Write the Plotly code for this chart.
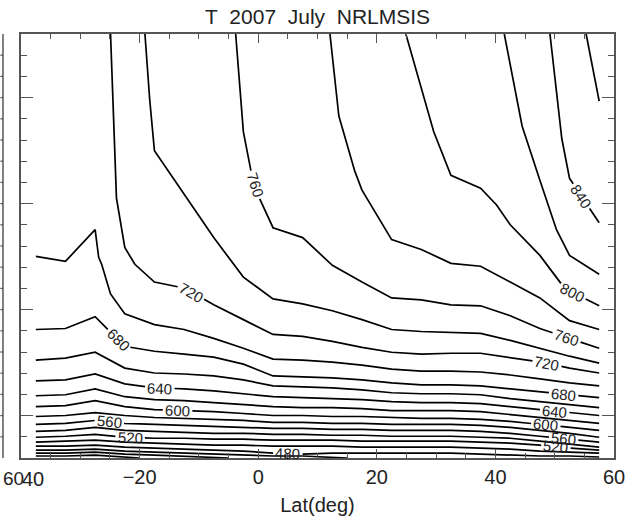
import numpy as np
import plotly.graph_objects as go

# ---------------- data ----------------
# latitude columns of the temperature grid (deg)
lat = [-37.5, -32.5, -27.5, -22.5, -17.5, -12.5, -7.5, -2.5, 2.5, 7.5,
       12.5, 17.5, 22.5, 27.5, 32.5, 37.5, 42.5, 47.5, 52.5, 57.5]
N = None
# altitude (km) where each isotherm (K) crosses each latitude column (None = not crossed)
alt_T420 = [101.0, 101.0, 101.5, 100.5, N, N, N, N, N, N, N, N, N, N, N, N, N, N, N, N]
alt_T440 = [102.5, 102.5, 103.0, 102.0, 101.5, 101.0, 100.5, N, N, N, N, N, N, N, N, N, N, N, N, N]
alt_T460 = [104.0, 104.0, 104.5, 103.5, 103.0, 102.5, 102.0, 101.5, 101.0, 101.0, 100.5, N, N, N, N, N, N, N, N, N]
alt_T480 = [106.0, 106.0, 106.5, 105.5, 105.0, 104.5, 104.0, 103.5, 102.5, 102.0, 102.5, 102.5, 102.5, 102.5, 102.5, 102.0, 101.5, 101.0, 101.0, 100.5]
alt_T500 = [108.0, 108.5, 109.0, 108.0, 107.5, 107.0, 106.5, 106.5, 106.0, 106.0, 106.0, 105.5, 105.5, 105.5, 105.5, 105.0, 104.5, 103.5, 103.0, 102.5]
alt_T520 = [110.5, 111.0, 112.0, 110.5, 110.0, 110.0, 109.5, 109.5, 109.0, 109.0, 109.0, 108.5, 108.5, 108.5, 108.5, 108.0, 107.5, 106.5, 105.0, 104.0]
alt_T540 = [113.5, 114.0, 115.5, 114.0, 113.5, 113.0, 112.5, 112.5, 112.0, 112.0, 111.5, 111.5, 111.0, 111.0, 111.0, 110.5, 110.0, 108.5, 107.0, 105.5]
alt_T560 = [117.0, 117.5, 119.0, 117.5, 117.0, 116.5, 116.0, 115.5, 115.0, 115.0, 114.5, 114.5, 114.0, 114.0, 114.0, 113.5, 112.5, 111.0, 109.5, 108.0]
alt_T580 = [121.0, 121.5, 123.0, 121.5, 120.5, 120.0, 119.5, 119.0, 118.0, 118.0, 117.5, 117.5, 117.0, 117.0, 117.0, 116.5, 115.5, 114.0, 112.5, 110.5]
alt_T600 = [126.0, 126.5, 129.0, 126.0, 124.5, 124.0, 123.5, 122.5, 121.5, 121.5, 121.0, 121.0, 120.5, 120.0, 120.0, 119.5, 118.5, 117.0, 115.5, 114.0]
alt_T620 = [131.5, 132.0, 135.0, 131.0, 129.5, 129.0, 128.0, 127.0, 126.0, 125.5, 125.5, 125.0, 124.0, 124.0, 124.0, 123.5, 122.0, 120.5, 119.0, 117.5]
alt_T640 = [139.0, 139.5, 142.5, 137.5, 135.5, 135.0, 134.0, 132.5, 131.0, 130.5, 130.0, 129.5, 128.5, 128.0, 128.0, 127.5, 126.0, 124.5, 123.0, 121.5]
alt_T660 = [149.5, 150.5, 153.5, 145.5, 143.0, 142.5, 141.5, 139.5, 136.5, 136.0, 135.5, 134.5, 133.0, 132.5, 132.5, 132.0, 130.0, 128.5, 127.0, 125.5]
alt_T680 = [165.0, 165.5, 171.5, 156.5, 154.0, 152.5, 151.0, 147.5, 141.5, 141.0, 140.5, 139.5, 138.0, 137.0, 137.0, 136.5, 135.0, 133.5, 132.0, 130.5]
alt_T700 = [202.0, 199.5, 215.5, 173.0, 167.5, 165.0, 160.5, 155.5, 150.0, 149.5, 148.5, 147.0, 145.0, 144.0, 144.0, 143.5, 142.0, 140.0, 138.0, 136.5]
alt_T720 = [N, N, N, 206.5, 189.0, 186.0, 177.5, 170.0, 162.5, 161.5, 159.0, 156.0, 153.5, 152.5, 153.0, 153.0, 151.0, 148.5, 145.5, 143.0]
alt_T740 = [N, N, N, N, 255.5, 233.5, 211.5, 191.5, 180.5, 178.0, 174.5, 170.0, 165.0, 164.0, 163.5, 163.0, 159.5, 155.5, 151.5, 148.0]
alt_T760 = [N, N, N, N, N, N, N, 265.0, 216.5, 211.5, 197.5, 189.0, 181.0, 180.0, 177.5, 177.0, 172.0, 165.5, 160.5, 155.5]
alt_T780 = [N, N, N, N, N, N, N, N, N, N, N, 235.5, 210.5, 205.5, 198.5, 197.0, 189.0, 181.0, 169.5, 165.0]
alt_T800 = [N, N, N, N, N, N, N, N, N, N, N, N, N, 286.5, 243.0, 236.5, 218.0, 202.5, 184.5, 177.0]
alt_T820 = [N, N, N, N, N, N, N, N, N, N, N, N, N, N, N, N, 299.0, 240.5, 202.5, 193.0]
alt_T840 = [N, N, N, N, N, N, N, N, N, N, N, N, N, N, N, N, N, N, 241.5, 219.0]
alt_T860 = [N, N, N, N, N, N, N, N, N, N, N, N, N, N, N, N, N, N, N, 280.5]

# extra isotherm vertices between grid columns (where lines leave the top/bottom or bend)
ext_lat_T420, ext_alt_T420 = [-20.0], [100.0]
ext_lat_T440, ext_alt_T440 = [-5.0], [100.0]
ext_lat_T460, ext_alt_T460 = [15.0], [100.0]
ext_lat_T700, ext_alt_T700 = [-26.9, -26.4, -24.9], [201.5, 198.0, 183.0]
ext_lat_T720, ext_alt_T720 = [-24.9, -23.9, -20.8], [314.5, 231.5, 198.0]
ext_lat_T740, ext_alt_T740 = [-19.1, -18.3], [314.5, 281.5]
ext_lat_T760, ext_alt_T760 = [-3.8, -1.2, 0.2], [314.5, 245.0, 231.5]
ext_lat_T780, ext_alt_T780 = [12.1, 13.6, 16.3], [314.5, 273.0, 245.0]
ext_lat_T800, ext_alt_T800 = [24.9, 29.6, 40.2, 50.8], [314.5, 265.0, 228.0, 189.0]
ext_lat_T820, ext_alt_T820 = [41.5, 44.5, 50.3], [314.5, 268.0, 215.5]
ext_lat_T840, ext_alt_T840 = [49.2, 51.2], [314.5, 261.5]
ext_lat_T860, ext_alt_T860 = [55.3], [314.5]

levels = [420, 440, 460, 480, 500, 520, 540, 560, 580, 600, 620, 640,
          660, 680, 700, 720, 740, 760, 780, 800, 820, 840, 860]
alt_cols = [alt_T420, alt_T440, alt_T460, alt_T480, alt_T500, alt_T520,
            alt_T540, alt_T560, alt_T580, alt_T600, alt_T620, alt_T640,
            alt_T660, alt_T680, alt_T700, alt_T720, alt_T740, alt_T760,
            alt_T780, alt_T800, alt_T820, alt_T840, alt_T860]
extras = {420: (ext_lat_T420, ext_alt_T420), 440: (ext_lat_T440, ext_alt_T440),
          460: (ext_lat_T460, ext_alt_T460), 700: (ext_lat_T700, ext_alt_T700),
          720: (ext_lat_T720, ext_alt_T720), 740: (ext_lat_T740, ext_alt_T740),
          760: (ext_lat_T760, ext_alt_T760), 780: (ext_lat_T780, ext_alt_T780),
          800: (ext_lat_T800, ext_alt_T800), 820: (ext_lat_T820, ext_alt_T820),
          840: (ext_lat_T840, ext_alt_T840), 860: (ext_lat_T860, ext_alt_T860)}

# contour labels: isotherm and latitude at which its label sits
label_levels = [760, 720, 680, 640, 600, 560, 520, 480,
                840, 800, 760, 720, 680, 640, 600, 560, 520]
label_lats = [-0.5, -11.3, -23.6, -16.6, -13.6, -25.1, -21.6, 5.0,
              54.5, 53.0, 52.0, 48.7, 51.5, 50.0, 48.5, 51.5, 50.2]

X_RANGE = [-40, 60]
ALT_MIN, ALT_MAX = 100.0, 314.5

# ---------------- geometry helpers ----------------
W, H = 637, 525
ML, MR, MT, MB = 21, 14, 34, 62
PW, PH = W - ML - MR, H - MT - MB
sx = PW / (X_RANGE[1] - X_RANGE[0])      # px per degree
sy = PH / (ALT_MAX - ALT_MIN)            # px per km
LABEL_HALF_GAP = 15.0                    # px, half length of the gap under a label


def polyline(level, cols):
    pts = [(la, al) for la, al in zip(lat, cols) if al is not None]
    if level in extras:
        pts += list(zip(*extras[level]))
    pts.sort()
    return np.array([p[0] for p in pts]), np.array([p[1] for p in pts])


def locate(lx, la, target_lat):
    for i in range(len(lx) - 1):
        a, b = lx[i], lx[i + 1]
        if a <= target_lat <= b and b > a:
            return i, (target_lat - a) / (b - a)
    return len(lx) - 2, 1.0


fig = go.Figure()
label_annots = []
for level, cols in zip(levels, alt_cols):
    lx, la = polyline(level, cols)
    X = (lx - X_RANGE[0]) * sx
    Y = (la - ALT_MIN) * sy
    s = np.concatenate([[0.0], np.cumsum(np.hypot(np.diff(X), np.diff(Y)))])
    gaps = []
    for lv, ll in zip(label_levels, label_lats):
        if lv != level:
            continue
        i, f = locate(lx, la, ll)
        s0 = s[i] + f * (s[i + 1] - s[i])
        gaps.append((s0 - LABEL_HALF_GAP, s0 + LABEL_HALF_GAP))
        dx = (lx[i + 1] - lx[i]) * sx
        dy = -(la[i + 1] - la[i]) * sy
        ang = np.degrees(np.arctan2(dy, dx))
        if ang > 90:
            ang -= 180
        if ang < -90:
            ang += 180
        label_annots.append(dict(x=lx[i] + f * (lx[i + 1] - lx[i]),
                                 y=la[i] + f * (la[i + 1] - la[i]),
                                 text=str(level), textangle=float(ang)))
    segs, start = [], 0.0
    for g0, g1 in sorted(gaps):
        segs.append((start, g0))
        start = g1
    segs.append((start, s[-1]))
    xs, ys = [], []
    for a0, a1 in segs:
        if a1 <= a0:
            continue
        ss = [a0] + [v for v in s if a0 < v < a1] + [a1]
        xs += list(np.interp(ss, s, lx)) + [None]
        ys += list(np.interp(ss, s, la)) + [None]
    fig.add_trace(go.Scatter(x=xs, y=ys, mode="lines", name=f"{level} K",
                             line=dict(color="black", width=1.7),
                             hoverinfo="skip", showlegend=False))

FONT = "Liberation Sans"
AX = "#555555"
TXT = "#222222"

for a in label_annots:
    fig.add_annotation(x=a["x"], y=a["y"], xref="x", yref="y", text=a["text"],
                       textangle=a["textangle"], showarrow=False,
                       xanchor="center", yanchor="middle",
                       font=dict(size=15, color=TXT, family=FONT))

ydt = (ALT_MAX - ALT_MIN) / 20.0
y_major = [ALT_MIN + ydt * k for k in (2, 7, 12, 17)]

fig.update_layout(
    width=W, height=H,
    margin=dict(l=ML, r=MR, t=MT, b=MB),
    plot_bgcolor="white", paper_bgcolor="white",
    font=dict(family=FONT, color=TXT),
    showlegend=False,
    title=dict(text="T\u00a0\u00a02007\u00a0\u00a0July\u00a0\u00a0NRLMSIS",
               xref="paper", x=0.5, xanchor="center",
               yref="container", y=1 - 17 / H, yanchor="middle",
               font=dict(size=21, color=TXT, family=FONT)),
    xaxis=dict(range=X_RANGE, tickmode="array",
               tickvals=[-40, -20, 0, 20, 40, 60],
               ticktext=["", "\u221220", "0", "20", "40", "60"],
               ticks="inside", ticklen=9, tickwidth=1.3, tickcolor=AX,
               showline=True, linecolor=AX, linewidth=1.6, mirror="allticks",
               showgrid=False, zeroline=False,
               minor=dict(tick0=0, dtick=5, ticks="inside", ticklen=5,
                          tickwidth=1.2, tickcolor=AX, showgrid=False),
               tickfont=dict(size=20, color=TXT, family=FONT),
               title=dict(text="Lat(deg)", font=dict(size=20, color=TXT, family=FONT),
                          standoff=11)),
    yaxis=dict(range=[ALT_MIN, ALT_MAX], tickmode="array", tickvals=y_major,
               showticklabels=False,
               ticks="inside", ticklen=12, tickwidth=1.3, tickcolor=AX,
               showline=True, linecolor=AX, linewidth=1.6, mirror="allticks",
               showgrid=False, zeroline=False,
               minor=dict(tick0=ALT_MIN, dtick=ydt, ticks="inside", ticklen=6,
                          tickwidth=1.2, tickcolor=AX, showgrid=False)),
)

# right frame edge of the neighbouring (cropped) panel with its ticks
px = 1.0 / PW
edge_x = -18.3 * px
shapes = [dict(type="line", xref="paper", yref="paper", x0=edge_x, x1=edge_x,
               y0=0, y1=1, line=dict(color=AX, width=1.5))]
for k in range(1, 20):
    yv = k / 20.0
    shapes.append(dict(type="line", xref="paper", yref="paper",
                       x0=edge_x, x1=-21 * px, y0=yv, y1=yv,
                       line=dict(color=AX, width=1.2)))
fig.update_layout(shapes=shapes)

fig.add_annotation(text="60", xref="paper", yref="paper", x=-20.5 * px, y=-21 / PH,
                   xanchor="left", yanchor="middle", showarrow=False,
                   font=dict(size=19, color=TXT, family=FONT))
fig.add_annotation(text="40", xref="paper", yref="paper", x=-1 * px, y=-21 / PH,
                   xanchor="left", yanchor="middle", showarrow=False,
                   font=dict(size=20, color=TXT, family=FONT))

fig.write_html("out.html")
